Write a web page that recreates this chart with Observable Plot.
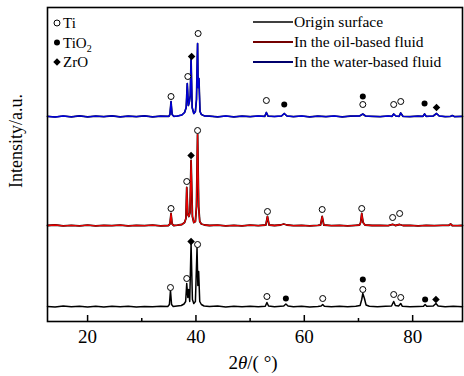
<!DOCTYPE html>
<html><head><meta charset="utf-8">
<script src="https://cdn.jsdelivr.net/npm/d3@7"></script>
<script src="https://cdn.jsdelivr.net/npm/@observablehq/plot@0.6"></script>
<style>body{margin:0;background:#fff} svg{font-family:"Liberation Serif","Times New Roman",serif}</style>
</head><body><div id="chart"></div><script>
// XRD patterns: [2θ, intensity above own baseline]
const originPattern = [[12.6,1],[14,0.5],[15.5,1.5],[17,0.8],[18.5,1.2],[20,0.5],[21.5,1.3],[23,0.6],[24.5,1.2],[26,0.7],[27.5,1.3],[29,0.6],[30.5,1.1],[32,0.7],[33.5,1.2],[34.8,1],[35.1,3],[35.3,17],[35.5,3],[35.8,1],[36.5,1.5],[37.3,2],[37.8,3.5],[38.1,6],[38.3,24],[38.5,10],[38.65,18],[38.85,6],[39.1,64],[39.35,8],[39.6,4],[39.9,6],[40.2,60],[40.35,22],[40.5,36],[40.7,6],[41.0,3],[41.5,1.5],[42.5,1],[44,1.4],[45.5,0.6],[47,1.2],[48.5,0.8],[50,1.3],[51.5,0.7],[52.8,1.2],[53.1,5],[53.4,1.5],[54.5,0.8],[56.2,1.5],[56.6,3.5],[57.0,1.5],[58,0.8],[59.5,1.2],[61,0.6],[62.5,1.1],[63.1,1.5],[63.4,3],[63.7,1.2],[65,0.7],[66.5,1.2],[68,0.8],[69.5,1.2],[70.3,2],[70.6,8],[70.8,14],[71.1,9],[71.4,2.5],[72,1.2],[73.5,0.8],[75,1.2],[76.1,1.5],[76.5,6],[76.8,2],[77.4,1.5],[77.8,4],[78.1,1.2],[79.5,0.7],[81,1.1],[82,1.2],[82.3,3],[82.6,1.2],[83.8,1.5],[84.3,4],[84.7,1.5],[86,0.8],[87.5,1.3],[89.2,0.8]];
const oilPattern = [[12.6,1],[14,1.5],[15.5,0.6],[17,1.2],[18.5,0.7],[20,1.3],[21.5,0.6],[23,1.1],[24.5,0.8],[26,1.3],[27.5,0.6],[29,1.2],[30.5,0.8],[32,1.3],[33.5,0.7],[34.9,1],[35.2,2.5],[35.4,13],[35.6,2.5],[35.9,1],[36.6,1.3],[37.4,2],[37.9,4],[38.15,8],[38.3,39],[38.5,12],[38.7,10],[38.9,14],[39.1,66],[39.35,10],[39.6,4],[39.9,5],[40.1,20],[40.3,92],[40.5,20],[40.7,5],[41.0,2.5],[41.6,1.5],[42.5,1],[44,1.3],[45.5,0.7],[47,1.2],[48.5,0.6],[50,1.3],[51.5,0.8],[52.9,1.5],[53.2,10],[53.5,1.5],[54.5,1],[55.6,1.5],[56.2,2.5],[56.8,1.5],[58,0.8],[59.5,1.2],[61,0.7],[62.5,1.2],[63.0,1.5],[63.3,10],[63.6,1.5],[65,0.8],[66.5,1.2],[68,0.7],[69.5,1.2],[70.2,1.5],[70.4,4],[70.6,13],[70.85,4],[71.2,1.5],[72.5,1],[74,1.2],[75.5,0.8],[76.3,2.2],[76.8,1],[77.6,2],[78.2,1],[79.5,1.2],[81,0.7],[82.5,1.1],[84,0.8],[85.5,1.2],[86.7,1.2],[87.0,2.5],[87.3,1],[88.3,0.8],[89.2,1]];
const waterPattern = [[12.6,1.2],[14,0.5],[15.5,1.5],[17,0.7],[18.5,1.6],[20,0.6],[21.5,1.4],[23,0.8],[24.5,1.6],[26,0.6],[27.5,1.4],[29,0.9],[30.5,1.6],[32,0.7],[33.5,1.3],[35.0,1.2],[35.2,3],[35.4,16],[35.6,3],[35.9,1.2],[36.6,1.5],[37.4,2.5],[37.9,5],[38.2,10],[38.4,34],[38.6,12],[38.8,16],[38.95,22],[39.1,59],[39.3,10],[39.6,4],[39.9,6],[40.1,18],[40.3,74],[40.4,30],[40.55,39],[40.75,6],[41.0,3],[41.6,1.5],[42.5,1.3],[44,0.6],[45.5,1.5],[47,0.7],[48.5,1.4],[50,0.8],[51.5,1.5],[52.7,1.2],[53.0,5],[53.3,1.4],[54.5,1],[55.8,1.5],[56.3,4],[56.8,1.5],[58,0.8],[59.5,1.5],[61,0.7],[62.5,1.4],[64,0.8],[65.5,1.5],[67,0.7],[68.5,1.4],[70.2,1.5],[70.8,3.5],[71.3,1.5],[72.5,1.2],[74,0.8],[75.5,1.5],[76.2,1.2],[76.5,3.5],[76.9,1.5],[77.5,1.2],[77.8,4.5],[78.2,1.2],[79.5,0.8],[81,1.3],[81.9,1.2],[82.2,3.5],[82.5,1.2],[83.8,1.5],[84.4,4],[84.9,1.5],[86,0.9],[87.0,1.2],[87.3,2],[87.7,0.9],[89.2,1.2]];

// phase markers: [2θ, height above baseline, phase]
const originMarks = [[35.3,20,"Ti"],[38.3,29,"Ti"],[39.1,66,"ZrO"],[40.3,63,"Ti"],[53.1,11,"Ti"],[56.6,9,"TiO2"],[63.4,9,"Ti"],[70.8,28,"TiO2"],[70.8,18,"Ti"],[76.5,13,"Ti"],[77.8,10,"Ti"],[82.3,8,"TiO2"],[84.3,8,"ZrO"]];
const oilMarks = [[35.4,18,"Ti"],[38.3,45,"Ti"],[39.1,71,"ZrO"],[40.3,96,"Ti"],[53.2,15,"Ti"],[63.3,17,"Ti"],[70.6,18,"Ti"],[76.3,9,"Ti"],[77.6,13,"Ti"]];
const waterMarks = [[35.4,21,"Ti"],[38.5,41,"Ti"],[39.2,61,"ZrO"],[40.4,84,"Ti"],[53.0,17,"Ti"],[56.3,13,"TiO2"],[70.8,21,"TiO2"],[70.8,13,"Ti"],[76.5,13,"Ti"],[77.8,16,"Ti"],[82.2,14,"TiO2"],[84.4,10,"ZrO"]];

const seriesNames = ["Origin surface","In the oil-based fluid","In the water-based fluid"];
const seriesColors = ["#000000","#e80000","#0000d8"];
const seriesOffsets = [14, 95, 204];
const phaseNames = ["Ti","TiO2","ZrO"];
const majorTicks = [20,40,60,80];
const minorTicks = [30,50,70];

const patterns = [originPattern, oilPattern, waterPattern];
const markSets = [originMarks, oilMarks, waterMarks];
const lineRows = patterns.map((p,i)=>p.map(([t,v])=>({theta:t, I:v+seriesOffsets[i], s:seriesNames[i]})));
const markRows = markSets.flatMap((m,i)=>m.map(([t,v,ph])=>({theta:t, I:v+seriesOffsets[i], phase:ph})));

const serif = "'Liberation Serif','Times New Roman',serif";
const chart = Plot.plot({
  width:464, height:376, marginLeft:47, marginRight:2, marginTop:7, marginBottom:55,
  style:{fontFamily:serif, background:"#fff"},
  x:{domain:[12.6,89.2], label:null},
  y:{domain:[0,314], axis:null},
  marks:[
    Plot.line(lineRows[0], {x:"theta", y:"I", stroke:seriesColors[0], strokeWidth:1.5}),
    Plot.line(lineRows[1], {x:"theta", y:"I", stroke:"#000", strokeWidth:1.8}),
    Plot.line(lineRows[1], {x:"theta", y:"I", stroke:seriesColors[1], strokeWidth:1.3}),
    Plot.line(lineRows[2], {x:"theta", y:"I", stroke:"#000033", strokeWidth:1.7}),
    Plot.line(lineRows[2], {x:"theta", y:"I", stroke:seriesColors[2], strokeWidth:1.3}),
    Plot.dot(markRows.filter(d=>d.phase==="Ti"), {x:"theta", y:"I", r:3, stroke:"#000", strokeWidth:1, fill:"#fff"}),
    Plot.dot(markRows.filter(d=>d.phase==="TiO2"), {x:"theta", y:"I", r:3, fill:"#000", stroke:"none"}),
    Plot.dot(markRows.filter(d=>d.phase==="ZrO"), {x:"theta", y:"I", r:3.4, symbol:"diamond2", fill:"#000", stroke:"none"}),
    Plot.ruleX(majorTicks, {x:d=>d, y1:0, y2:6, stroke:"#000", strokeWidth:1.5}),
    Plot.ruleX(minorTicks, {x:d=>d, y1:0, y2:3, stroke:"#000", strokeWidth:1.5}),
    Plot.axisX({ticks:majorTicks, tickSize:0, tickPadding:8, fontSize:19, label:null, tickFormat:d=>String(d)}),
    Plot.frame({stroke:"#000", strokeWidth:1.6})
  ]
});
document.getElementById("chart").appendChild(chart);

const svg = d3.select(chart);
svg.selectAll("g[aria-label='x-axis tick label'] text").attr("fill","#000");
// y label
svg.append("text").attr("transform","translate(22,141) rotate(-90)").attr("text-anchor","middle")
  .attr("font-size",18).attr("font-family",serif).attr("fill","#000").text("Intensity/a.u.");
// x label
const xl = svg.append("text").attr("x",253).attr("y",369).attr("text-anchor","middle")
  .attr("font-size",19).attr("font-family",serif).attr("fill","#000");
xl.append("tspan").text("2");
xl.append("tspan").attr("font-style","italic").text("θ");
xl.append("tspan").text("/( °)");

// phase legend
const pl = svg.append("g").attr("font-family",serif).attr("font-size",15).attr("fill","#000").attr("text-anchor","start");
const sym = [d3.symbol(d3.symbolCircle, 28)(), d3.symbol(d3.symbolCircle, 28)(), d3.symbol(d3.symbolDiamond2, 36)()];
phaseNames.forEach((p,i)=>{
  const y = 23 + i*19.5;
  pl.append("path").attr("d", sym[i]).attr("transform",`translate(57,${y})`)
    .attr("fill", i===0 ? "#fff" : "#000").attr("stroke", i===0 ? "#000" : "none").attr("stroke-width",1);
  const t = pl.append("text").attr("x",63).attr("y",y+5);
  if (p==="TiO2") { t.append("tspan").text("TiO"); t.append("tspan").attr("font-size",10).attr("dy",4).text("2"); }
  else t.text(p);
});
// series legend
const sl = svg.append("g").attr("font-family",serif).attr("font-size",15.5).attr("fill","#000").attr("text-anchor","start");
seriesNames.forEach((n,i)=>{
  const y = 22 + i*20;
  if (i>0) sl.append("line").attr("x1",253).attr("x2",293).attr("y1",y).attr("y2",y).attr("stroke","#000").attr("stroke-width",2);
  sl.append("line").attr("x1",253).attr("x2",293).attr("y1",y).attr("y2",y).attr("stroke",seriesColors[i]).attr("stroke-width",i>0?1.2:1.6);
  sl.append("text").attr("x",294).attr("y",y+5).text(n);
});
</script></body></html>
